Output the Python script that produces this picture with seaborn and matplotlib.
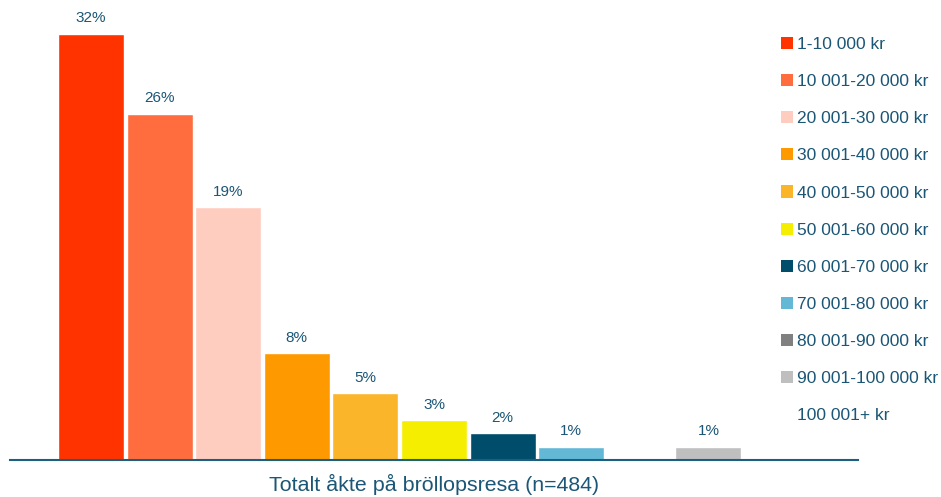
import matplotlib
matplotlib.use("Agg")
import matplotlib.pyplot as plt
import seaborn as sns
import pandas as pd
from matplotlib.patches import Patch

# Kostnadsintervall och andel (%)
categories = [
    "1-10 000 kr", "10 001-20 000 kr", "20 001-30 000 kr", "30 001-40 000 kr",
    "40 001-50 000 kr", "50 001-60 000 kr", "60 001-70 000 kr", "70 001-80 000 kr",
    "80 001-90 000 kr", "90 001-100 000 kr", "100 001+ kr",
]
shares = [32, 26, 19, 8, 5, 3, 2, 1, 0, 1, 0]
colors = [
    "#ff3300", "#ff6d3f", "#ffccc0", "#ff9900", "#fbb52b", "#f5ee00",
    "#004d6b", "#63b8d6", "#808080", "#bfbfbf", "#ffffff",
]
xlabel = "Totalt åkte på bröllopsresa (n=484)"

TEXT = "#1b5676"

sns.set_style("white")
plt.rcParams["font.family"] = ["Liberation Sans", "DejaVu Sans"]

df = pd.DataFrame({"kategori": categories, "andel": shares})

fig = plt.figure(figsize=(9.41, 4.97), dpi=100)
ax = fig.add_axes([10 / 941, 37 / 497, 848 / 941, 449.5 / 497])

sns.barplot(
    data=df, x="kategori", y="andel", hue="kategori", palette=colors,
    order=categories, hue_order=categories, width=0.962, saturation=1,
    legend=False, ax=ax,
)

# etiketter ovanför staplarna, tomma staplar utan etikett
labels = [f"{v}%" if v > 0 else "" for v in shares]
for cont, lab in zip(ax.containers, labels):
    ax.bar_label(cont, labels=[lab], padding=6, fontsize=11, color=TEXT)

ax.set_xlim(-1.18, 11.18)
ax.set_ylim(0, 33.75)
ax.set_xticks([])
ax.set_yticks([])
ax.set_ylabel("")
ax.set_xlabel(xlabel, fontsize=15.4, color=TEXT, labelpad=10)
for side in ["top", "right", "left"]:
    ax.spines[side].set_visible(False)
ax.spines["bottom"].set_color("#1d5f80")
ax.spines["bottom"].set_linewidth(1.5)

handles = [Patch(facecolor=c, edgecolor="none") for c in colors]
fig.legend(
    handles, categories, loc="upper left", bbox_to_anchor=(781 / 941, 1 - 37 / 497),
    frameon=False, fontsize=12.5, labelcolor=TEXT, handlelength=0.7,
    handleheight=0.7, handletextpad=0.2, labelspacing=1.265, borderpad=0,
    borderaxespad=0,
)

fig.savefig("out.png", dpi=100)
